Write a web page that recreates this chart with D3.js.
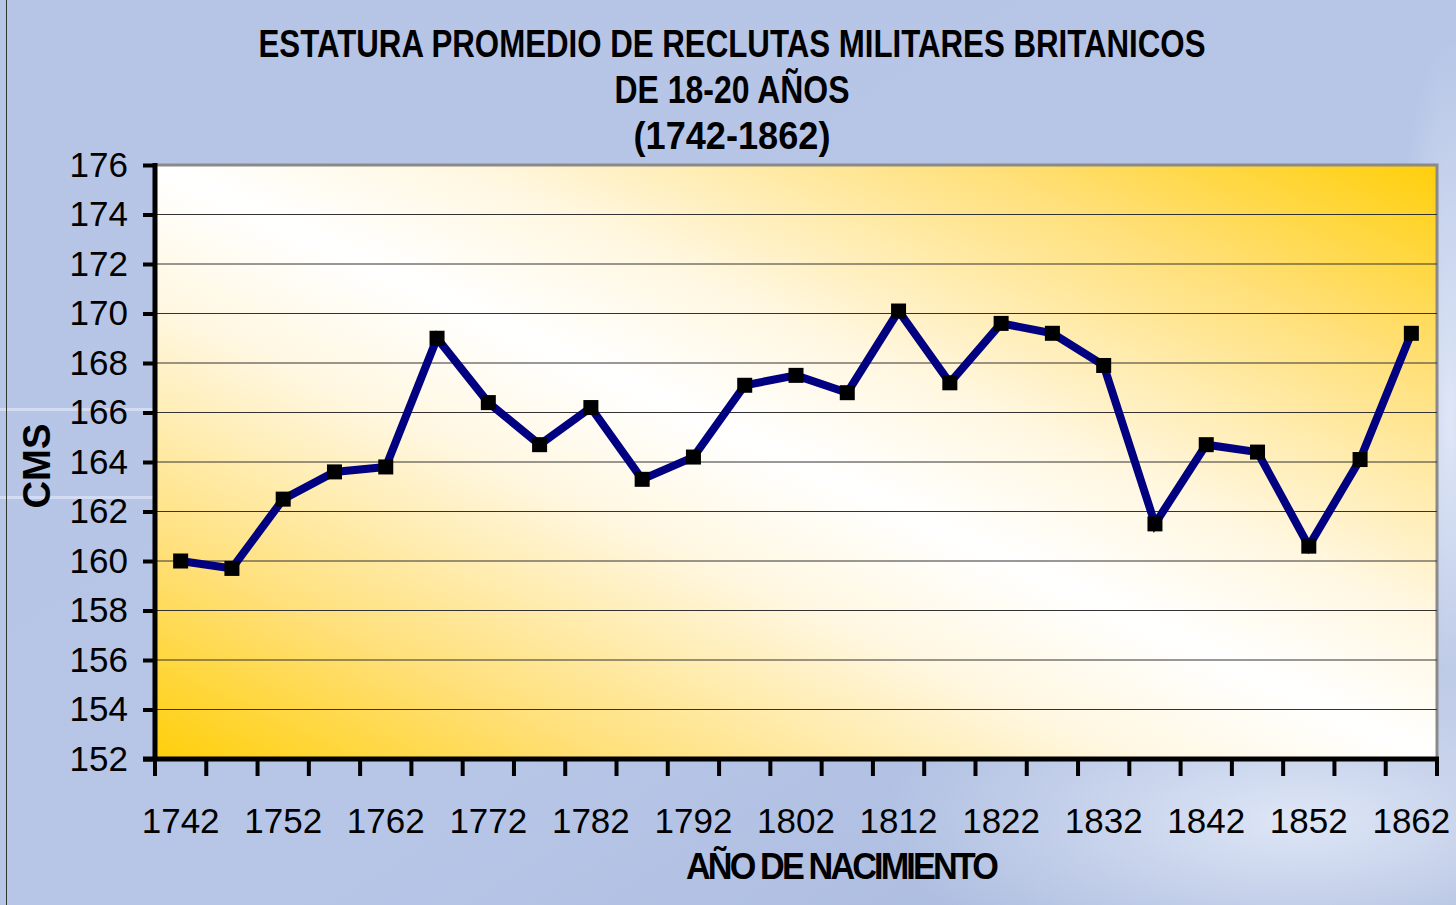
<!DOCTYPE html>
<html lang="es">
<head>
<meta charset="utf-8">
<script src="https://cdn.jsdelivr.net/npm/d3@7/dist/d3.min.js"></script>
<style>
  html, body { margin: 0; padding: 0; background: #b7c6e7; }
  svg { display: block; }
</style>
<title>Estatura promedio de reclutas</title>
</head>
<body>
<div id="chart"></div>
<script>
// data
var years = [1742, 1747, 1752, 1757, 1762, 1767, 1772, 1777, 1782, 1787, 1792, 1797, 1802,
             1807, 1812, 1817, 1822, 1827, 1832, 1837, 1842, 1847, 1852, 1857, 1862];
var heights = [160.0, 159.7, 162.5, 163.6, 163.8, 169.0, 166.4, 164.7, 166.2, 163.3, 164.2, 167.1, 167.5,
               166.8, 170.1, 167.2, 169.6, 169.2, 167.9, 161.5, 164.7, 164.4, 160.6, 164.1, 169.2];
var yearLabels = [1742, 1752, 1762, 1772, 1782, 1792, 1802, 1812, 1822, 1832, 1842, 1852, 1862];
var yTicks = [152, 154, 156, 158, 160, 162, 164, 166, 168, 170, 172, 174, 176];
var titleLines = ["ESTATURA PROMEDIO DE RECLUTAS MILITARES BRITANICOS", "DE 18-20 AÑOS", "(1742-1862)"];

var width = 1456, height = 905;
var plot = { left: 155, right: 1437, top: 165, bottom: 759 };

var svg = d3.select("#chart").append("svg")
    .attr("width", width)
    .attr("height", height);

var defs = svg.append("defs");

// page background
var bg = defs.append("linearGradient").attr("id", "bg")
    .attr("x1", 0).attr("y1", 0).attr("x2", 1).attr("y2", 1);
bg.append("stop").attr("offset", "0%").attr("stop-color", "#b6c5e6");
bg.append("stop").attr("offset", "60%").attr("stop-color", "#b7c6e7");
bg.append("stop").attr("offset", "100%").attr("stop-color", "#a9b9dc");

var glow = defs.append("radialGradient").attr("id", "glow")
    .attr("cx", 0.5).attr("cy", 0.5).attr("r", 0.5);
glow.append("stop").attr("offset", "0%").attr("stop-color", "#e4ebf9").attr("stop-opacity", 0.9);
glow.append("stop").attr("offset", "100%").attr("stop-color", "#e4ebf9").attr("stop-opacity", 0);

// plot area: gold corners, white diagonal band
var area = defs.append("linearGradient").attr("id", "plotfill")
    .attr("x1", 0).attr("y1", 1).attr("x2", 1).attr("y2", 0);
area.append("stop").attr("offset", "0%").attr("stop-color", "#ffcf0a");
area.append("stop").attr("offset", "18%").attr("stop-color", "#ffe07a");
area.append("stop").attr("offset", "38%").attr("stop-color", "#fff7e0");
area.append("stop").attr("offset", "50%").attr("stop-color", "#ffffff");
area.append("stop").attr("offset", "62%").attr("stop-color", "#fff7e0");
area.append("stop").attr("offset", "82%").attr("stop-color", "#ffe07a");
area.append("stop").attr("offset", "100%").attr("stop-color", "#ffcf0a");

svg.append("rect")
    .attr("width", width).attr("height", height)
    .attr("fill", "url(#bg)");
svg.append("ellipse")
    .attr("cx", 1300).attr("cy", 820).attr("rx", 420).attr("ry", 160)
    .attr("fill", "url(#glow)");
svg.append("ellipse")
    .attr("cx", 1450).attr("cy", 420).attr("rx", 60).attr("ry", 380)
    .attr("fill", "url(#glow)");

// faint streaks on the left
svg.append("rect").attr("x", 0).attr("y", 408).attr("width", 155).attr("height", 3)
    .attr("fill", "#d3dcf2");
svg.append("rect").attr("x", 0).attr("y", 496).attr("width", 155).attr("height", 3)
    .attr("fill", "#d3dcf2");
svg.append("line")
    .attr("x1", 6.5).attr("x2", 6.5).attr("y1", 0).attr("y2", height)
    .attr("stroke", "#333").attr("stroke-width", 1);

// scales
var x = d3.scaleBand()
    .domain(years)
    .range([plot.left, plot.right])
    .padding(0);

var y = d3.scaleLinear()
    .domain([152, 176])
    .range([plot.bottom, plot.top]);

// plot background and frame (gray on top/right)
svg.append("rect")
    .attr("x", plot.left).attr("y", plot.top)
    .attr("width", plot.right - plot.left).attr("height", plot.bottom - plot.top)
    .attr("fill", "url(#plotfill)");
svg.append("path")
    .attr("d", "M" + plot.left + "," + plot.top + "H" + plot.right + "V" + plot.bottom)
    .attr("fill", "none")
    .attr("stroke", "#8a8a8a")
    .attr("stroke-width", 3);

// gridlines
svg.append("g")
    .selectAll("line")
    .data(yTicks.filter(function(d) { return d > 152 && d < 176; }))
    .enter().append("line")
    .attr("x1", plot.left).attr("x2", plot.right)
    .attr("y1", function(d) { return y(d); })
    .attr("y2", function(d) { return y(d); })
    .attr("stroke", "#333")
    .attr("stroke-width", 1);

// y axis
var yAxis = svg.append("g")
    .attr("transform", "translate(" + plot.left + ",0)")
    .call(d3.axisLeft(y).tickValues(yTicks).tickSize(12).tickPadding(15));
yAxis.select(".domain").remove();
yAxis.append("line")
    .attr("x1", 0).attr("x2", 0)
    .attr("y1", plot.top - 2).attr("y2", plot.bottom + 2)
    .attr("stroke", "#000").attr("stroke-width", 5);
yAxis.selectAll(".tick line").attr("stroke", "#000").attr("stroke-width", 4);
yAxis.selectAll(".tick text")
    .attr("fill", "#000")
    .style("font-family", "Arial, 'Liberation Sans', sans-serif")
    .style("font-size", "35px");

// x axis: tick marks on category boundaries, labels every other category
var boundaries = years.map(function(d) { return x(d); }).concat([x(years[years.length - 1]) + x.step()]);
var xg = svg.append("g").attr("transform", "translate(0," + plot.bottom + ")");
xg.append("line")
    .attr("x1", plot.left - 12).attr("x2", plot.right + 2)
    .attr("y1", 0).attr("y2", 0)
    .attr("stroke", "#000").attr("stroke-width", 5);
xg.selectAll(".xtick")
    .data(boundaries)
    .enter().append("line")
    .attr("class", "xtick")
    .attr("x1", function(d) { return d; }).attr("x2", function(d) { return d; })
    .attr("y1", 0).attr("y2", 17)
    .attr("stroke", "#000").attr("stroke-width", 4);

var xLabels = svg.append("g")
    .attr("transform", "translate(0," + plot.bottom + ")")
    .call(d3.axisBottom(x).tickValues(yearLabels).tickSize(0).tickPadding(49));
xLabels.select(".domain").remove();
xLabels.selectAll(".tick text")
    .attr("fill", "#000")
    .style("font-family", "Arial, 'Liberation Sans', sans-serif")
    .style("font-size", "35px");

// series line and markers
var line = d3.line()
    .x(function(d, i) { return x(years[i]) + x.bandwidth() / 2; })
    .y(function(d) { return y(d); });

svg.append("path")
    .datum(heights)
    .attr("d", line)
    .attr("fill", "none")
    .attr("stroke", "#000080")
    .attr("stroke-width", 8)
    .attr("stroke-linejoin", "miter");

svg.append("g")
    .selectAll("rect")
    .data(heights)
    .enter().append("rect")
    .attr("x", function(d, i) { return x(years[i]) + x.bandwidth() / 2 - 7.5; })
    .attr("y", function(d) { return y(d) - 7.5; })
    .attr("width", 15).attr("height", 15)
    .attr("fill", "#000");

// title
var title = svg.append("g")
    .style("font-family", "'Liberation Sans Narrow', 'Arial Narrow', 'Liberation Sans', sans-serif")
    .style("font-size", "38px")
    .style("font-weight", "bold")
    .attr("text-anchor", "middle");
var titleWidths = [947, 235, 197];
var titleBase = [57, 103, 149];
titleLines.forEach(function(t, i) {
    title.append("text")
        .attr("x", 732)
        .attr("y", titleBase[i])
        .attr("textLength", titleWidths[i])
        .attr("lengthAdjust", "spacingAndGlyphs")
        .attr("fill", "#000")
        .text(t);
});

// axis titles
svg.append("text")
    .attr("x", 841).attr("y", 879)
    .attr("text-anchor", "middle")
    .attr("textLength", 310)
    .attr("lengthAdjust", "spacingAndGlyphs")
    .style("font-family", "Arial, 'Liberation Sans', sans-serif")
    .style("font-weight", "bold")
    .style("font-size", "36px")
    .style("letter-spacing", "-3px")
    .text("AÑO DE NACIMIENTO");

svg.append("text")
    .attr("transform", "translate(50,466) rotate(-90)")
    .attr("text-anchor", "middle")
    .attr("textLength", 85)
    .attr("lengthAdjust", "spacingAndGlyphs")
    .style("font-family", "Arial, 'Liberation Sans', sans-serif")
    .style("font-weight", "bold")
    .style("font-size", "39px")
    .text("CMS");
</script>
</body>
</html>
